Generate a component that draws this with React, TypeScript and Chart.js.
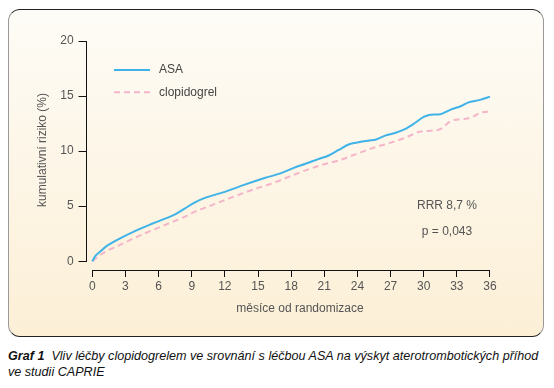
import React, { useEffect, useRef } from 'react';
import { Chart, registerables } from 'chart.js';

Chart.register(...registerables);

const asaMonths = [0, 0.3, 0.7, 1.2, 2.3, 3.9, 5.4, 7.5, 8.4, 9.3, 10.2, 12.0, 13.8, 15.6, 17.1, 18.3, 19.3, 20.4, 21.4, 22.3, 23.2, 24.1, 25.0, 25.7, 26.5, 27.4, 28.3, 29.2, 30.0, 30.6, 31.5, 32.4, 33.4, 34.0, 35.1, 36.0];
const asaValues = [0, 0.5, 0.85, 1.3, 1.95, 2.75, 3.4, 4.25, 4.8, 5.35, 5.75, 6.3, 6.95, 7.55, 8.0, 8.5, 8.85, 9.25, 9.6, 10.1, 10.6, 10.8, 10.95, 11.05, 11.4, 11.65, 12.0, 12.55, 13.1, 13.3, 13.35, 13.75, 14.1, 14.4, 14.65, 14.95];

const clopMonths = [0, 0.3, 0.7, 1.45, 2.35, 3.9, 5.4, 7.2, 8.4, 9.3, 11.1, 12.9, 14.7, 16.5, 18.0, 19.3, 20.8, 22.3, 23.8, 25.3, 26.8, 28.3, 29.2, 29.6, 30.6, 31.5, 32.5, 33.6, 34.3, 35.2, 36.1];
const clopValues = [0, 0.25, 0.55, 1.0, 1.4, 2.15, 2.8, 3.55, 4.05, 4.5, 5.2, 5.9, 6.55, 7.15, 7.75, 8.25, 8.75, 9.15, 9.7, 10.25, 10.7, 11.2, 11.6, 11.75, 11.85, 12.0, 12.75, 12.9, 13.05, 13.5, 13.6];

const seriesLabels = ['ASA', 'clopidogrel'];
const xTickValues = [0, 3, 6, 9, 12, 15, 18, 21, 24, 27, 30, 33, 36];
const yTickValues = [0, 5, 10, 15, 20];
const xTitle = 'měsíce od randomizace';
const yTitle = 'kumulativní riziko (%)';
const statLines = ['RRR 8,7 %', 'p = 0,043'];
const captionBold = 'Graf 1';
const captionLine1 = 'Vliv léčby clopidogrelem ve srovnání s léčbou ASA na výskyt aterotrombotických příhod';
const captionLine2 = 've studii CAPRIE';

const FONT = '"Liberation Sans", Arial, Helvetica, sans-serif';
const TEXT = '#555';

const overlayPlugin = {
  id: 'overlay',
  afterDraw(chart: any) {
    const { ctx, chartArea, scales } = chart;
    const x = scales.x;
    const y = scales.y;
    ctx.save();
    // detached axis lines
    ctx.strokeStyle = '#111';
    ctx.lineWidth = 1;
    ctx.setLineDash([]);
    const ax = Math.floor(chartArea.left) + 0.5;
    ctx.beginPath();
    ctx.moveTo(ax, y.getPixelForValue(yTickValues[0]));
    ctx.lineTo(ax, y.getPixelForValue(yTickValues[yTickValues.length - 1]));
    ctx.stroke();
    const ay = Math.floor(chartArea.bottom) + 0.5;
    ctx.beginPath();
    ctx.moveTo(x.getPixelForValue(xTickValues[0]), ay);
    ctx.lineTo(x.getPixelForValue(xTickValues[xTickValues.length - 1]), ay);
    ctx.stroke();

    // legend
    ctx.font = '12px ' + FONT;
    ctx.textBaseline = 'middle';
    ctx.textAlign = 'left';
    chart.data.datasets.forEach((ds: any, i: number) => {
      const ly = 62 + i * 22.3;
      ctx.strokeStyle = ds.borderColor;
      ctx.lineWidth = ds.borderWidth;
      ctx.setLineDash(ds.borderDash || []);
      ctx.beginPath();
      ctx.moveTo(106, ly);
      ctx.lineTo(142, ly);
      ctx.stroke();
      ctx.fillStyle = '#444';
      ctx.fillText(ds.label, 151, ly);
    });
    ctx.setLineDash([]);

    // stats
    ctx.fillStyle = TEXT;
    ctx.textAlign = 'center';
    statLines.forEach((t, i) => ctx.fillText(t, 439, 198 + i * 26));

    // axis titles
    ctx.fillText(xTitle, 292, 301);
    ctx.translate(35, 142);
    ctx.rotate(-Math.PI / 2);
    ctx.fillText(yTitle, 0, 0);
    ctx.restore();
  },
};

export default function App() {
  const ref = useRef<HTMLCanvasElement>(null);
  useEffect(() => {
    if (!ref.current) return;
    const chart = new Chart(ref.current, {
      type: 'line',
      data: {
        datasets: [
          {
            label: seriesLabels[0],
            data: asaMonths.map((m, i) => ({ x: m, y: asaValues[i] })),
            borderColor: '#3fb3e8',
            borderWidth: 2,
            pointRadius: 0,
            cubicInterpolationMode: 'monotone',
            fill: false,
          },
          {
            label: seriesLabels[1],
            data: clopMonths.map((m, i) => ({ x: m, y: clopValues[i] })),
            borderColor: '#f5b5c9',
            borderWidth: 2,
            borderDash: [6, 4],
            pointRadius: 0,
            cubicInterpolationMode: 'monotone',
            fill: false,
          },
        ],
      },
      options: {
        animation: false,
        responsive: false,
        devicePixelRatio: 1,
        layout: { padding: { left: 0, top: 33, right: 53.8, bottom: 0 } },
        plugins: { legend: { display: false }, tooltip: { enabled: false } },
        scales: {
          x: {
            type: 'linear',
            min: -0.52,
            max: 36.2,
            afterBuildTicks: (s: any) => {
              s.ticks = xTickValues.map((v) => ({ value: v }));
            },
            afterFit: (s: any) => {
              s.height = 70;
            },
            ticks: { color: TEXT, font: { size: 12, family: FONT }, padding: 2, maxRotation: 0, autoSkip: false },
            grid: { drawOnChartArea: false, drawTicks: true, tickLength: 7, color: '#111' },
            border: { display: false },
          },
          y: {
            type: 'linear',
            min: -0.8,
            max: 20,
            afterBuildTicks: (s: any) => {
              s.ticks = yTickValues.map((v) => ({ value: v }));
            },
            afterFit: (s: any) => {
              s.width = 78.55;
            },
            ticks: { color: TEXT, font: { size: 12, family: FONT }, padding: 5 },
            grid: { drawOnChartArea: false, drawTicks: true, tickLength: 8, color: '#111' },
            border: { display: false },
          },
        },
      },
      plugins: [overlayPlugin],
    } as any);
    return () => chart.destroy();
  }, []);

  return (
    <div style={{ position: 'relative', width: 538, height: 380, fontFamily: FONT }}>
      <div
        style={{
          position: 'absolute',
          left: 0,
          top: 1,
          width: 536,
          height: 328,
          boxSizing: 'border-box',
          borderRadius: 12,
          borderTop: '1px solid #222',
          borderBottom: '1px solid #222',
          borderLeft: '1px solid #999',
          borderRight: '1px solid #999',
          background: 'linear-gradient(#fefcf7, #fcefd6)',
        }}
      />
      <canvas
        ref={ref}
        width={538}
        height={332}
        style={{ position: 'absolute', left: 0, top: 0, width: 538, height: 332, display: 'block' }}
      />
      <div
        style={{
          position: 'absolute',
          left: 0,
          top: 340,
          fontSize: 12.6,
          lineHeight: '16px',
          fontStyle: 'italic',
          color: '#111',
          whiteSpace: 'nowrap',
        }}
      >
        <b>{captionBold}</b>
        {'\u00a0 ' + captionLine1}
        <br />
        {captionLine2}
      </div>
    </div>
  );
}
